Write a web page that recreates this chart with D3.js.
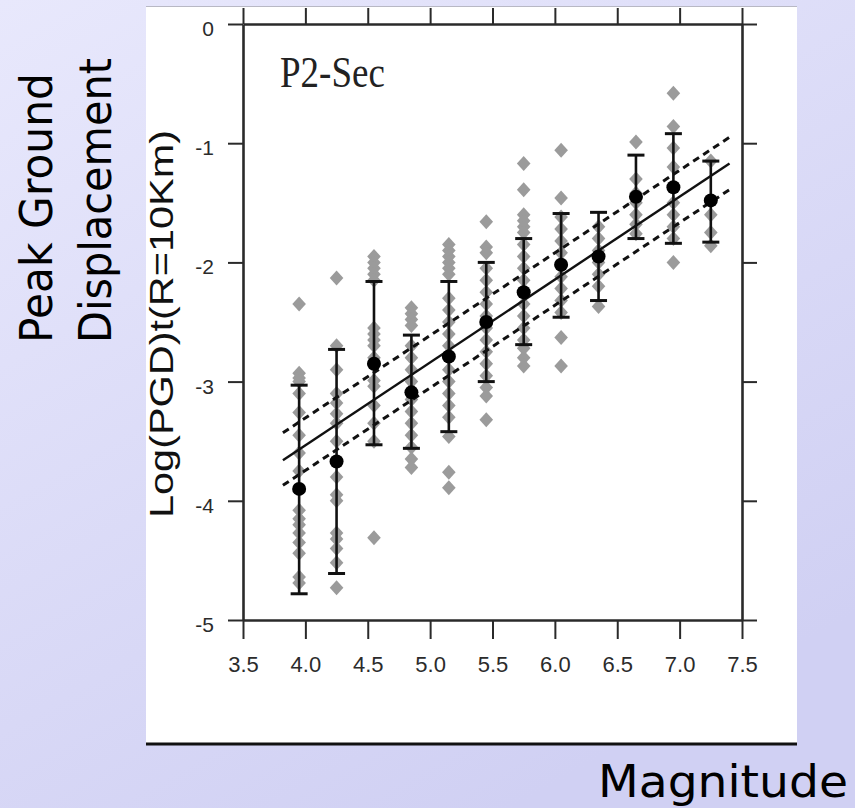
<!DOCTYPE html>
<html>
<head>
<meta charset="utf-8">
<script src="https://cdn.jsdelivr.net/npm/d3@7"></script>
<style>
  html, body { margin: 0; padding: 0; }
  body { width: 855px; height: 808px; overflow: hidden; }
</style>
</head>
<body>
<div id="chart"></div>
<script>
// magnitude bins (centre of each bin)
const magBins = [3.95, 4.25, 4.55, 4.85, 5.15, 5.45, 5.75, 6.05, 6.35, 6.65, 6.95, 7.25];
// mean log(PGD) per bin and error bar ends
const meanPGD  = [-3.90, -3.67, -2.85, -3.09, -2.79, -2.50, -2.25, -2.02, -1.95, -1.45, -1.37, -1.48];
const errTop   = [-3.03, -2.73, -2.16, -2.61, -2.16, -2.00, -1.80, -1.59, -1.58, -1.10, -0.92, -1.15];
const errBot   = [-4.78, -4.61, -3.53, -3.56, -3.42, -3.00, -2.69, -2.46, -2.32, -1.80, -1.84, -1.83];

// individual records per bin (grey diamonds)
const recordsPGD = [
  [-2.35, -2.93, -2.97, -3.0, -3.1, -3.26, -3.45, -3.6, -3.75, -4.08, -4.15, -4.2, -4.27, -4.35, -4.44, -4.64, -4.69],
  [-2.13, -2.7, -2.9, -3.1, -3.18, -3.27, -3.35, -3.5, -3.8, -3.95, -4.0, -4.27, -4.32, -4.4, -4.52, -4.73],
  [-1.95, -2.0, -2.05, -2.1, -2.15, -2.55, -2.6, -2.65, -2.7, -2.8, -2.99, -3.04, -3.2, -3.35, -3.5, -4.31],
  [-2.38, -2.43, -2.48, -2.53, -2.7, -2.8, -2.9, -3.0, -3.15, -3.25, -3.35, -3.45, -3.55, -3.65, -3.72],
  [-1.85, -1.9, -1.95, -2.0, -2.05, -2.1, -2.3, -2.4, -2.5, -2.6, -2.7, -2.8, -2.9, -3.0, -3.1, -3.2, -3.3, -3.46, -3.76, -3.89],
  [-1.66, -1.87, -1.92, -2.05, -2.15, -2.25, -2.35, -2.45, -2.55, -2.65, -2.75, -2.85, -2.95, -3.05, -3.12, -3.32],
  [-1.17, -1.39, -1.6, -1.65, -1.7, -1.75, -1.85, -1.95, -2.05, -2.15, -2.25, -2.35, -2.45, -2.55, -2.65, -2.72, -2.8, -2.87],
  [-1.06, -1.46, -1.62, -1.72, -1.82, -1.92, -2.02, -2.12, -2.22, -2.32, -2.42, -2.63, -2.87],
  [-1.7, -1.8, -1.9, -2.0, -2.1, -2.2, -2.37],
  [-0.99, -1.3, -1.42, -1.5, -1.6, -1.68, -1.76],
  [-0.58, -0.86, -1.04, -1.2, -1.5, -1.6, -1.7, -1.8, -2.0],
  [-1.15, -1.6, -1.75, -1.86]
];

// regression line and its +/- band (end points)
const fitMag   = [3.82, 7.40];
const fitMid   = [-3.66, -1.17];
const fitUpper = [-3.43, -0.95];
const fitLower = [-3.87, -1.39];

const xTicks = [3.5, 4.0, 4.5, 5.0, 5.5, 6.0, 6.5, 7.0, 7.5];
const yTicks = [0, -1, -2, -3, -4, -5];

const W = 855, H = 808;
const plot = {left: 243, right: 742, top: 24, bottom: 620};

const svg = d3.select("#chart").append("svg")
    .attr("width", W)
    .attr("height", H);

// lavender slide background
const grad = svg.append("defs").append("linearGradient")
    .attr("id", "bg")
    .attr("x1", "0").attr("y1", "0").attr("x2", "0.6").attr("y2", "1");
grad.append("stop").attr("offset", "0%").attr("stop-color", "#e8e8fc");
grad.append("stop").attr("offset", "100%").attr("stop-color", "#d0d0f3");
svg.append("rect").attr("width", W).attr("height", H).attr("fill", "url(#bg)");

// white figure panel
svg.append("rect")
    .attr("x", 146).attr("y", 6)
    .attr("width", 651).attr("height", 738)
    .attr("fill", "#ffffff");
svg.append("line")
    .attr("x1", 146).attr("x2", 797).attr("y1", 6.5).attr("y2", 6.5)
    .attr("stroke", "#b8b8c4").attr("stroke-width", 1);
svg.append("line")
    .attr("x1", 146).attr("x2", 797).attr("y1", 744).attr("y2", 744)
    .attr("stroke", "#111").attr("stroke-width", 3);

var x = d3.scaleLinear().domain([3.5, 7.5]).range([plot.left, plot.right]);
var y = d3.scaleLinear().domain([-5, 0]).range([plot.bottom, plot.top]);

function styleAxis(g) {
    g.select(".domain").attr("stroke", "#2a2a2a").attr("stroke-width", 2.6);
    g.selectAll(".tick line").attr("stroke", "#2a2a2a").attr("stroke-width", 2);
    g.selectAll(".tick text")
        .attr("fill", "#2b2b2b")
        .style("font-family", "'Liberation Sans', Arial, sans-serif")
        .style("font-size", "21px");
}

svg.append("g")
    .attr("transform", "translate(0," + plot.bottom + ")")
    .call(d3.axisBottom(x).tickValues(xTicks).tickSize(19).tickSizeOuter(0)
        .tickPadding(17).tickFormat(d3.format(".1f")))
    .call(styleAxis)
    .selectAll(".tick text").style("font-size", "22px");

svg.append("g")
    .attr("transform", "translate(0," + plot.top + ")")
    .call(d3.axisTop(x).tickValues(xTicks).tickSize(16).tickSizeOuter(0).tickFormat(""))
    .call(styleAxis);

svg.append("g")
    .attr("transform", "translate(" + plot.left + ",0)")
    .call(d3.axisLeft(y).tickValues(yTicks).tickSize(15).tickSizeOuter(0)
        .tickPadding(14).tickFormat(d => String(d)))
    .call(styleAxis)
    .selectAll(".tick text").attr("dy", "0.55em");

svg.append("g")
    .attr("transform", "translate(" + plot.right + ",0)")
    .call(d3.axisRight(y).tickValues(yTicks).tickSize(15).tickSizeOuter(0).tickFormat(""))
    .call(styleAxis);

// grey diamonds for each record
const records = [];
recordsPGD.forEach((vals, i) => {
    vals.forEach(v => records.push({mag: magBins[i], pgd: v}));
});

svg.append("g")
    .selectAll("path")
    .data(records)
    .enter()
    .append("path")
    .attr("d", "M0,-7.5L6.8,0L0,7.5L-6.8,0Z")
    .attr("transform", d => "translate(" + x(d.mag) + "," + y(d.pgd) + ")")
    .attr("fill", "#9b9b9b");

// regression line and band
const lineGen = d3.line()
    .x(d => x(d[0]))
    .y(d => y(d[1]));

function fitPoints(vals) { return fitMag.map((m, i) => [m, vals[i]]); }

svg.append("path")
    .datum(fitPoints(fitMid))
    .attr("fill", "none")
    .attr("stroke", "#111")
    .attr("stroke-width", 2.4)
    .attr("d", lineGen);

[fitUpper, fitLower].forEach(vals => {
    svg.append("path")
        .datum(fitPoints(vals))
        .attr("fill", "none")
        .attr("stroke", "#111")
        .attr("stroke-width", 3)
        .attr("stroke-dasharray", "7,5")
        .attr("d", lineGen);
});

// error bars
const bars = magBins.map((m, i) => ({mag: m, mean: meanPGD[i], top: errTop[i], bot: errBot[i]}));
const eb = svg.append("g").attr("stroke", "#111");

eb.selectAll(".stem")
    .data(bars)
    .enter()
    .append("line")
    .attr("x1", d => x(d.mag)).attr("x2", d => x(d.mag))
    .attr("y1", d => y(d.top)).attr("y2", d => y(d.bot))
    .attr("stroke-width", 2.6);

eb.selectAll(".capTop")
    .data(bars)
    .enter()
    .append("line")
    .attr("x1", d => x(d.mag) - 8.5).attr("x2", d => x(d.mag) + 8.5)
    .attr("y1", d => y(d.top)).attr("y2", d => y(d.top))
    .attr("stroke-width", 3);

eb.selectAll(".capBot")
    .data(bars)
    .enter()
    .append("line")
    .attr("x1", d => x(d.mag) - 8.5).attr("x2", d => x(d.mag) + 8.5)
    .attr("y1", d => y(d.bot)).attr("y2", d => y(d.bot))
    .attr("stroke-width", 3);

svg.append("g")
    .selectAll("circle")
    .data(bars)
    .enter()
    .append("circle")
    .attr("cx", d => x(d.mag))
    .attr("cy", d => y(d.mean))
    .attr("r", 7)
    .attr("fill", "#000");

// panel label
svg.append("text")
    .attr("transform", "translate(280,87) scale(1,1.2)")
    .style("font-family", "'Liberation Serif', 'Times New Roman', serif")
    .style("font-size", "37px")
    .attr("fill", "#222")
    .text("P2-Sec");

// y axis title inside figure
svg.append("text")
    .attr("transform", "translate(173,324) rotate(-90)")
    .attr("text-anchor", "middle")
    .style("font-family", "'Liberation Sans', Arial, sans-serif")
    .style("font-size", "34px")
    .attr("textLength", 388)
    .attr("lengthAdjust", "spacingAndGlyphs")
    .attr("fill", "#111")
    .text("Log(PGD)t(R=10Km)");

// slide annotations
const slideFont = "'DejaVu Sans', 'Noto Sans', sans-serif";
svg.append("text")
    .attr("transform", "translate(52,343) rotate(-90)")
    .style("font-family", slideFont)
    .style("font-size", "44px")
    .attr("textLength", 270)
    .attr("lengthAdjust", "spacingAndGlyphs")
    .attr("fill", "#000")
    .text("Peak Ground");

svg.append("text")
    .attr("transform", "translate(111,343) rotate(-90)")
    .style("font-family", slideFont)
    .style("font-size", "44px")
    .attr("textLength", 285)
    .attr("lengthAdjust", "spacingAndGlyphs")
    .attr("fill", "#000")
    .text("Displacement");

svg.append("text")
    .attr("x", 598).attr("y", 797)
    .style("font-family", slideFont)
    .style("font-size", "45px")
    .attr("textLength", 250)
    .attr("lengthAdjust", "spacingAndGlyphs")
    .attr("fill", "#000")
    .text("Magnitude");
</script>
</body>
</html>
